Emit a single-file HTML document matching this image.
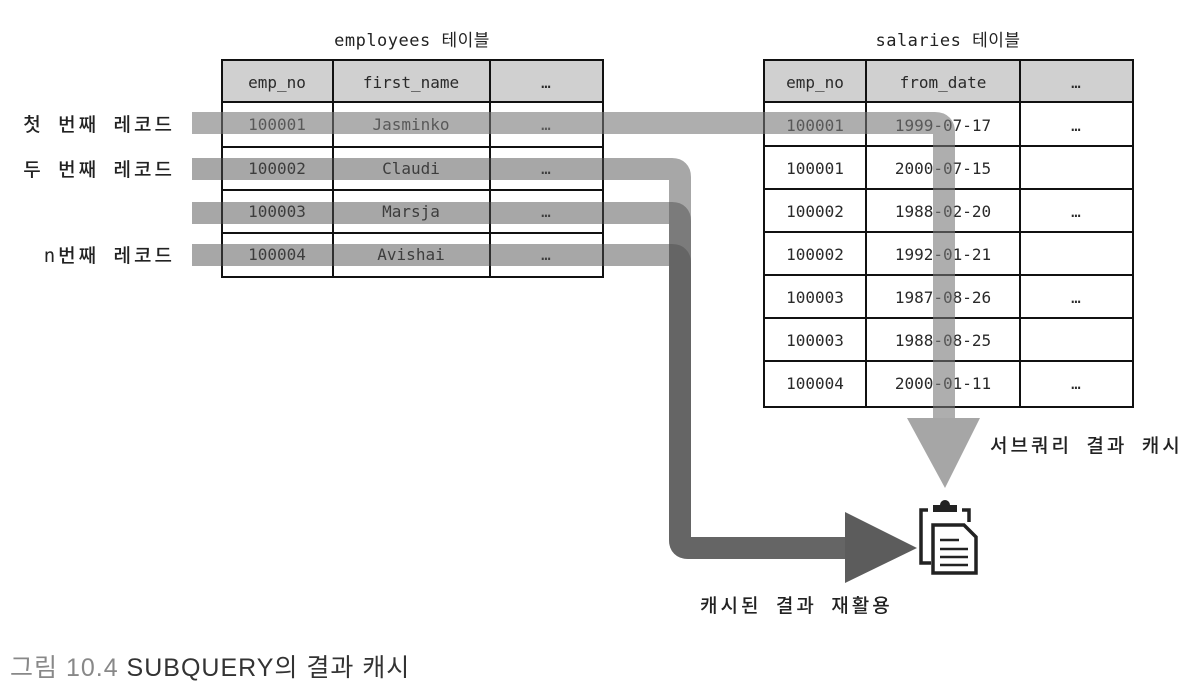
<!DOCTYPE html>
<html><head><meta charset="utf-8"><style>
html,body{margin:0;padding:0;background:#fff;}
body{width:1200px;height:694px;overflow:hidden;position:relative;}
svg{position:absolute;left:0;top:0;}
.m{font-family:"DejaVu Sans Mono","Liberation Mono",monospace;font-size:16px;fill:#2a2a2a;}
.k{font-family:"DejaVu Sans Mono","Noto Sans CJK KR",monospace;font-size:19px;fill:#222;letter-spacing:3px;font-weight:500;}
.t{font-family:"DejaVu Sans Mono","Noto Sans CJK KR",monospace;font-size:17px;fill:#222;letter-spacing:0.5px;}
</style></head><body>
<svg width="1200" height="694" viewBox="0 0 1200 694">
<text class="t" x="412" y="46" text-anchor="middle">employees 테이블</text>
<rect x="222" y="60" width="381" height="42" fill="#d0d0d0"/>
<g stroke="#111" stroke-width="2" fill="none">
<rect x="222" y="60" width="381" height="217"/>
<line x1="333" y1="60" x2="333" y2="277"/><line x1="490" y1="60" x2="490" y2="277"/>
<line x1="222" y1="102" x2="603" y2="102"/><line x1="222" y1="147" x2="603" y2="147"/>
<line x1="222" y1="190" x2="603" y2="190"/><line x1="222" y1="233" x2="603" y2="233"/>
</g>
<g class="m" text-anchor="middle">
<text x="277" y="88">emp_no</text><text x="411" y="88">first_name</text><text x="546" y="88">…</text>
<text x="277" y="130">100001</text><text x="411" y="130">Jasminko</text><text x="546" y="130">…</text>
<text x="277" y="174">100002</text><text x="411" y="174">Claudi</text><text x="546" y="174">…</text>
<text x="277" y="217">100003</text><text x="411" y="217">Marsja</text><text x="546" y="217">…</text>
<text x="277" y="260">100004</text><text x="411" y="260">Avishai</text><text x="546" y="260">…</text>
</g>
<text class="t" x="948" y="46" text-anchor="middle">salaries 테이블</text>
<rect x="764" y="60" width="369" height="42" fill="#d0d0d0"/>
<g stroke="#111" stroke-width="2" fill="none">
<rect x="764" y="60" width="369" height="347"/>
<line x1="866" y1="60" x2="866" y2="407"/><line x1="1020" y1="60" x2="1020" y2="407"/>
<line x1="764" y1="102" x2="1133" y2="102"/><line x1="764" y1="146" x2="1133" y2="146"/>
<line x1="764" y1="189" x2="1133" y2="189"/><line x1="764" y1="232" x2="1133" y2="232"/>
<line x1="764" y1="275" x2="1133" y2="275"/><line x1="764" y1="318" x2="1133" y2="318"/>
<line x1="764" y1="361" x2="1133" y2="361"/>
</g>
<g class="m" text-anchor="middle">
<text x="815" y="88">emp_no</text><text x="943" y="88">from_date</text><text x="1076" y="88">…</text>
<text x="815" y="131">100001</text><text x="943" y="131">1999-07-17</text><text x="1076" y="131">…</text>
<text x="815" y="174">100001</text><text x="943" y="174">2000-07-15</text>
<text x="815" y="217">100002</text><text x="943" y="217">1988-02-20</text><text x="1076" y="217">…</text>
<text x="815" y="260">100002</text><text x="943" y="260">1992-01-21</text>
<text x="815" y="303">100003</text><text x="943" y="303">1987-08-26</text><text x="1076" y="303">…</text>
<text x="815" y="346">100003</text><text x="943" y="346">1988-08-25</text>
<text x="815" y="389">100004</text><text x="943" y="389">2000-01-11</text><text x="1076" y="389">…</text>
</g>
<path d="M192 123 H935 Q944 123 944 132 V420" stroke="rgba(120,120,120,0.6)" stroke-width="22" fill="none"/>
<polygon points="907,418 980,418 945,488" fill="#a6a6a6"/>
<g stroke="rgba(80,80,80,0.5)" stroke-width="22" fill="none" stroke-linejoin="round">
<path d="M192 169 H672 Q680 169 680 177 V540 Q680 548 688 548 H848"/>
<path d="M192 213 H672 Q680 213 680 221 V540 Q680 548 688 548 H848"/>
<path d="M192 255 H672 Q680 255 680 263 V540 Q680 548 688 548 H848"/>
</g>
<polygon points="845,512 917,548 845,583" fill="#5c5c5c"/>
<g fill="none" stroke="#222" stroke-width="3.5">
<path d="M928 510 H921 V563 H931"/>
<path d="M962 510 H969 V522"/>
<path d="M933 525 H964 L976 537 V573 H933 Z" fill="#fff"/>
<line x1="940" y1="540" x2="959" y2="540" stroke-width="2.5"/>
<line x1="940" y1="549" x2="968" y2="549" stroke-width="2.5"/>
<line x1="940" y1="557" x2="968" y2="557" stroke-width="2.5"/>
<line x1="940" y1="565" x2="968" y2="565" stroke-width="2.5"/>
</g>
<path d="M933 512 V505 H940 A5 5 0 0 1 950 505 H957 V512 Z" fill="#222"/>
<g class="k" text-anchor="end">
<text x="175" y="131">첫 번째 레코드</text>
<text x="175" y="176">두 번째 레코드</text>
<text x="175" y="262">n번째 레코드</text>
</g>
<text class="k" x="990" y="452">서브쿼리 결과 캐시</text>
<text class="k" x="700" y="612">캐시된 결과 재활용</text>
<text x="10" y="676" font-family="'Liberation Sans','Noto Sans CJK KR',sans-serif" font-size="25" letter-spacing="1" fill="#333"><tspan fill="#888">그림 10.4</tspan> SUBQUERY의 결과 캐시</text>
</svg>
</body></html>
